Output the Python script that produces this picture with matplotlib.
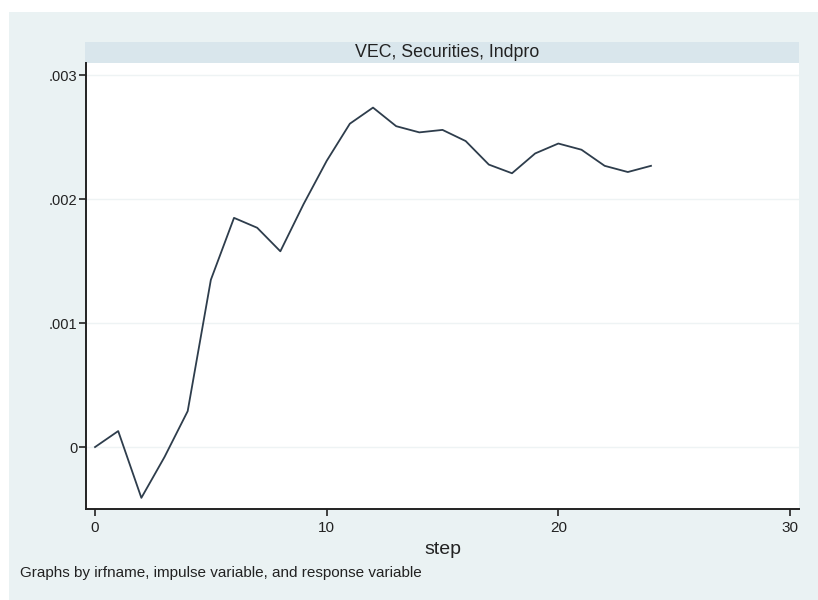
import matplotlib
matplotlib.use("Agg")
import matplotlib.pyplot as plt
from matplotlib.patches import Rectangle

# Impulse response: VEC model, impulse = Securities, response = Indpro
steps = list(range(25))
irf = [0.0, 0.000129, -0.00041, -0.00008, 0.00029, 0.00135, 0.00185, 0.00177,
       0.00158, 0.00196, 0.00231, 0.00261, 0.00274, 0.00259, 0.00254, 0.00256,
       0.00247, 0.00228, 0.00221, 0.00237, 0.00245, 0.00240, 0.00227, 0.00222,
       0.00227]

y_ticks = [0.0, 0.001, 0.002, 0.003]
y_labels = ["0", ".001", ".002", ".003"]
x_ticks = [0, 10, 20, 30]
panel_title = "VEC, Securities, Indpro"
x_title = "step"
note = "Graphs by irfname, impulse variable, and response variable"

W, H = 818, 600
BG = "#eaf2f3"
STRIP = "#d9e6ec"
GRID = "#eef3f4"
LINE = "#2e3d4c"

plt.rcParams["font.family"] = ["Liberation Sans", "DejaVu Sans"]

fig = plt.figure(figsize=(W / 100, H / 100), dpi=100, facecolor="white")

def fx(px):
    return px / W

def fy(py):
    return 1 - py / H

# outer graph region
fig.patches.append(Rectangle((fx(9), 0), 1 - fx(9), fy(12), transform=fig.transFigure,
                             facecolor=BG, edgecolor="none", zorder=-2))

# panel strip with title
fig.patches.append(Rectangle((fx(85), fy(63)), fx(799) - fx(85), fy(42) - fy(63),
                             transform=fig.transFigure, facecolor=STRIP,
                             edgecolor="none", zorder=-1))
fig.text(fx(447), fy(52.5), panel_title, ha="center", va="center", fontsize=12.8,
         color="#222222")

ax = fig.add_axes([fx(86), fy(509), fx(799) - fx(86), fy(63) - fy(509)])
ax.set_zorder(2)
ax.set_facecolor("white")
ax.plot(steps, irf, color=LINE, linewidth=1.3, zorder=3)

ax.set_xlim(-0.39, 30.39)
ax.set_ylim(-0.0005, 0.0031)
ax.set_xticks(x_ticks)
ax.set_xticklabels([str(t) for t in x_ticks], fontsize=11)
ax.set_yticks(y_ticks)
ax.set_yticklabels(y_labels, fontsize=10.5)
ax.grid(axis="y", color=GRID, linewidth=1.0)
ax.set_axisbelow(True)

for side in ("top", "right"):
    ax.spines[side].set_visible(False)
for side in ("left", "bottom"):
    ax.spines[side].set_color("#222222")
    ax.spines[side].set_linewidth(1.4)

ax.tick_params(axis="both", colors="#222222", length=5, width=1.2)
ax.tick_params(axis="x", pad=4)
ax.tick_params(axis="y", pad=1)

fig.text(fx(443), fy(550), x_title, ha="center", va="center", fontsize=14,
         color="#222222")
fig.text(fx(20), fy(573), note, ha="left", va="center", fontsize=11, color="#222222")

fig.savefig("out.png", dpi=100, facecolor="white")
